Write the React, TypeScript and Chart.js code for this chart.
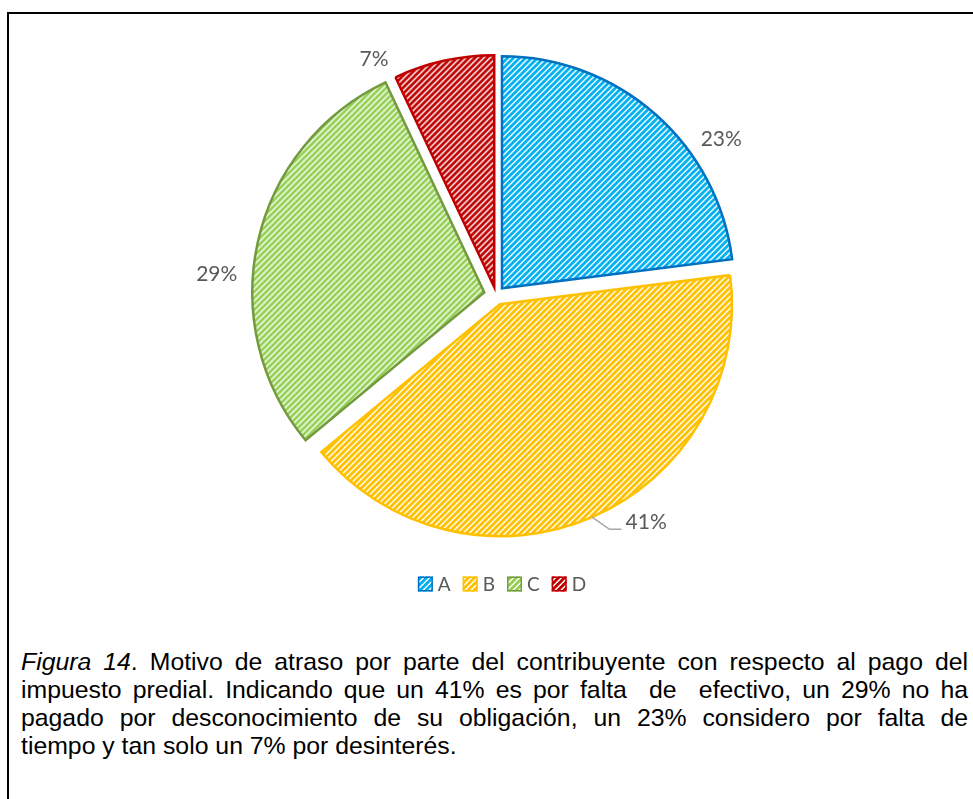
import React, { useEffect, useRef } from 'react';
import { Chart, registerables } from 'chart.js';

Chart.register(...registerables);

// ---- data ----
const categories = ['A', 'B', 'C', 'D'];
const values = [23, 41, 29, 7];
const percentLabels = ['23%', '41%', '29%', '7%'];

// ---- styles ----
const stripeColors = ['#00B0F0', '#FFC000', '#92D050', '#C00000'];
const borderColors = ['#0070C0', '#FFC000', '#749A3E', '#C00000'];
const explodePx = [9, 10, 12, 8];
const labelClockDeg = [55.3, 146.5, 274.3, 332.6];
const labelDistPx = [274, 272, 280, 265];
const labelLeader = [false, true, false, false];

const captionLines = [
  'Motivo de atraso por parte del contribuyente con respecto al pago del',
  'impuesto predial. Indicando que un 41% es por falta  de  efectivo, un 29% no ha',
  'pagado por desconocimiento de su obligación, un 23% considero por falta de',
  'tiempo y tan solo un 7% por desinterés.',
];

function hexToRgb(hex: string): [number, number, number] {
  const v = parseInt(hex.slice(1), 16);
  return [(v >> 16) & 255, (v >> 8) & 255, v & 255];
}

function makePattern(color: string): CanvasPattern | string {
  const n = 6;
  const c = document.createElement('canvas');
  c.width = n;
  c.height = n;
  const g = c.getContext('2d');
  if (!g) return color;
  const [r, gg, b] = hexToRgb(color);
  const img = g.createImageData(n, n);
  for (let y = 0; y < n; y++) {
    for (let x = 0; x < n; x++) {
      const k = (x + y) % n;
      const t = k < 3 ? 1 : k === 3 ? 0.75 : k === 5 ? 0.25 : 0;
      const idx = (y * n + x) * 4;
      img.data[idx] = Math.round(255 + (r - 255) * t);
      img.data[idx + 1] = Math.round(255 + (gg - 255) * t);
      img.data[idx + 2] = Math.round(255 + (b - 255) * t);
      img.data[idx + 3] = 255;
    }
  }
  g.putImageData(img, 0, 0);
  const p = g.createPattern(c, 'repeat');
  return p || color;
}

const LABEL_FONT = '21px Lato, "Open Sans", sans-serif';

const explodePlugin = {
  id: 'explodeSlices',
  beforeDatasetDraw(chart: any, args: any) {
    const ctx = chart.ctx;
    const meta = args.meta;
    meta.data.forEach((arc: any, i: number) => {
      const mid = (arc.startAngle + arc.endAngle) / 2;
      ctx.save();
      ctx.translate(Math.cos(mid) * explodePx[i], Math.sin(mid) * explodePx[i]);
      arc.draw(ctx, chart.chartArea);
      ctx.restore();
    });
    return false;
  },
  afterDatasetsDraw(chart: any) {
    const ctx = chart.ctx;
    const meta = chart.getDatasetMeta(0);
    ctx.save();
    ctx.font = LABEL_FONT;
    ctx.fillStyle = '#595959';
    ctx.textBaseline = 'middle';
    ctx.textAlign = 'center';
    meta.data.forEach((arc: any, i: number) => {
      const cx = arc.x;
      const cy = arc.y;
      const a = ((labelClockDeg[i] - 90) * Math.PI) / 180;
      const lx = cx + Math.cos(a) * labelDistPx[i];
      const ly = cy + Math.sin(a) * labelDistPx[i];
      const text = percentLabels[i];
      ctx.fillText(text, lx, ly);
      if (labelLeader[i]) {
        const mid = (arc.startAngle + arc.endAngle) / 2;
        const r = arc.outerRadius + explodePx[i];
        const sx = cx + Math.cos(mid) * r;
        const sy = cy + Math.sin(mid) * r;
        const w = ctx.measureText(text).width;
        const left = lx - w / 2;
        ctx.beginPath();
        ctx.strokeStyle = '#A6A6A6';
        ctx.lineWidth = 1.5;
        ctx.moveTo(sx, sy);
        ctx.lineTo(left - 16, ly + 7.5);
        ctx.lineTo(left - 4, ly + 7.5);
        ctx.stroke();
      }
    });
    ctx.restore();

    // legend
    const ds = chart.data.datasets[0];
    const labels = chart.data.labels as string[];
    const box = 15;
    const gapText = 5;
    const gapItem = 12;
    ctx.save();
    ctx.font = '19px Lato, "Open Sans", sans-serif';
    const widths = labels.map((l) => ctx.measureText(l).width);
    const total = widths.reduce((s, w) => s + box + gapText + w, 0) + gapItem * (labels.length - 1);
    const a0 = meta.data[0];
    const centerX = a0.x + 6;
    const legendY = a0.y + a0.outerRadius + 57;
    let x = centerX - total / 2;
    labels.forEach((l, i) => {
      ctx.fillStyle = ds.backgroundColor[i];
      ctx.fillRect(x, legendY - box / 2, box, box);
      ctx.strokeStyle = ds.borderColor[i];
      ctx.lineWidth = 1.5;
      ctx.strokeRect(x + 0.75, legendY - box / 2 + 0.75, box - 1.5, box - 1.5);
      ctx.fillStyle = '#595959';
      ctx.textBaseline = 'middle';
      ctx.textAlign = 'left';
      ctx.fillText(l, x + box + gapText, legendY + 1);
      x += box + gapText + widths[i] + gapItem;
    });
    ctx.restore();
  },
};

export default function App() {
  const canvasRef = useRef<HTMLCanvasElement | null>(null);

  useEffect(() => {
    const canvas = canvasRef.current;
    if (!canvas) return;
    const patterns = stripeColors.map((c) => makePattern(c));
    const chart = new Chart(canvas, {
      type: 'pie',
      data: {
        labels: categories,
        datasets: [
          {
            data: values,
            backgroundColor: patterns as any,
            borderColor: borderColors,
            borderWidth: 2.5,
            borderJoinStyle: 'miter',
            radius: 232,
          } as any,
        ],
      },
      options: {
        animation: false,
        responsive: false,
        devicePixelRatio: 1,
        layout: { padding: { left: 19, right: 0, top: 0, bottom: 30 } },
        plugins: {
          legend: { display: false },
          tooltip: { enabled: false },
        },
      },
      plugins: [explodePlugin as any],
    });
    return () => chart.destroy();
  }, []);

  const captionFont = '"Liberation Sans", Arial, sans-serif';

  return (
    <div
      style={{
        position: 'fixed',
        left: 0,
        top: 0,
        width: 973,
        height: 799,
        overflow: 'hidden',
        background: '#ffffff',
      }}
    >
      <div
        style={{
          position: 'absolute',
          left: 7,
          top: 12,
          width: 1000,
          height: 1000,
          borderTop: '2px solid #000',
          borderLeft: '2px solid #000',
        }}
      />
      <canvas
        ref={canvasRef}
        width={973}
        height={620}
        style={{ position: 'absolute', left: 0, top: 0, width: 973, height: 620, display: 'block' }}
      />
      <div
        style={{
          position: 'absolute',
          left: 21,
          top: 648,
          width: 947,
          fontFamily: captionFont,
          fontSize: 24.8,
          lineHeight: '28px',
          color: '#000',
        }}
      >
        {captionLines.map((line, i) => (
          <div
            key={i}
            style={{
              whiteSpace: 'pre',
              textAlign: i < captionLines.length - 1 ? 'justify' : 'left',
              textAlignLast: i < captionLines.length - 1 ? 'justify' : 'left',
            } as any}
          >
            {i === 0 ? (
              <>
                <i>Figura 14</i>. {line}
              </>
            ) : (
              line
            )}
          </div>
        ))}
      </div>
    </div>
  );
}
